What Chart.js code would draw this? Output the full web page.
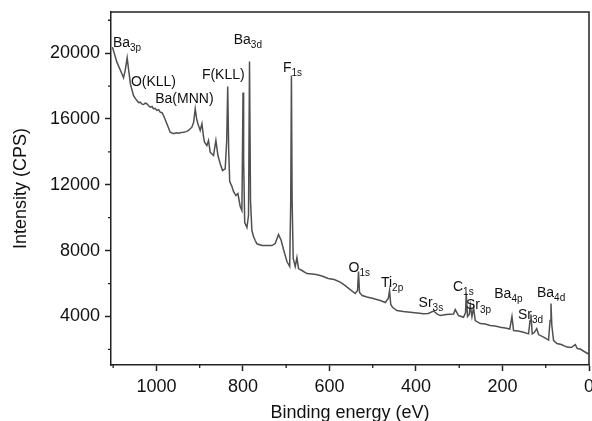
<!DOCTYPE html>
<html><head><meta charset="utf-8">
<script src="https://cdn.jsdelivr.net/npm/chart.js@4.4.0/dist/chart.umd.min.js"></script>
<style>html,body{margin:0;padding:0;background:#fff;}#wrap{width:592px;height:421px;}</style>
</head><body><div id="wrap"><canvas id="c" width="592" height="421"></canvas></div>
<script>
// Binding energy (eV)
const energy = [1101.6,1091.4,1079.8,1076.1,1072.2,1067.6,1064.1,1059.9,1053,1049,1045.1,1041,1037.5,1033,1029.8,1026,1022,1018,1014.4,1010,1006.8,1003,998.9,995,991.3,987,983.6,975.8,968.2,960.5,954,948.9,943,937.4,931,925.8,918,914,910.3,907,904.1,898.8,894.8,891,888.8,883.3,879.6,875.7,868,862.5,857.8,852.5,847.2,841,837.5,835.2,832.9,830.6,825.5,821.8,816.3,811.6,806.3,802.4,801,799.8,798.4,795.9,790.8,787.1,784.8,782.5,779.3,775.5,771.6,767.7,756.1,746.2,733,725.4,717.8,711.5,706.2,698.3,691.9,689.5,687.9,686.3,683.8,679.1,675.2,671.5,663.6,652.1,640.5,630.6,617.4,602.8,589,575.1,563.5,552,540.4,535.1,532.8,530.5,524.2,513.3,498.8,482.6,471,464.1,461.1,458.3,453.7,444,429.4,413.3,397.1,382.5,371.6,359.4,350.8,343.9,330,313.1,309.2,301.6,290,285.4,283.8,280.8,276.8,274.5,270.6,266.9,263,251.4,239.8,228.3,216.7,205.2,193.6,183.2,178.1,174.4,163.6,151.3,139.7,136.3,134.2,131.2,126.5,120.8,116.6,105,93.5,90,87.9,85.9,81.9,74.1,64.1,51,41.2,31.7,27,20.1,11.2,1.2];
// Intensity (CPS)
const intensity = [20365,19453,18748,18505,18948,19708,18948,18097,17429,17250,17124,16990,17021,16900,16881,16960,16924,16800,16717,16760,16620,16650,16517,16560,16413,16380,16213,15708,15198,15100,15160,15137,15180,15198,15230,15301,15502,15800,16620,16000,15708,15301,15708,14900,14590,14389,14693,13982,13781,14693,13781,13276,12869,12972,14693,17976,14085,12200,11896,11593,11349,11471,10681,10438,14085,17611,13477,9708,9404,10134,19495,11045,9222,8857,8614,8413,8310,8310,8310,8432,8979,8614,8067,7337,7034,11045,18644,11045,7520,7034,7581,6912,6791,6608,6578,6547,6456,6304,6243,6091,5878,5635,5392,5574,6729,5453,5271,5180,5089,4968,4846,5089,5574,4724,4541,4359,4298,4255,4207,4158,4177,4329,4146,4055,4116,4146,4420,4055,3951,4237,5392,3994,4116,4663,3994,4541,3751,3569,3538,3447,3417,3344,3295,3234,3994,3143,3112,3040,2942,3751,4116,2942,3021,3265,2900,2748,2565,3751,4785,3447,2535,2353,2292,2140,2110,2292,2049,2019,1870,1718];

const xMajorTicks = [1000,800,600,400,200,0];
const xMinorTicks = [1100,900,700,500,300,100];
const yMajorTicks = [4000,8000,12000,16000,20000];
const yMinorTicks = [2000,6000,10000,14000,18000,22000];

// Peak labels: main text, subscript, anchor (energy, intensity)
const peakMain = ['Ba','O(KLL)','Ba(MNN)','F(KLL)','Ba','F','O','Ti','Sr','C','Sr','Ba','Sr','Ba'];
const peakSub  = ['3p','','','','3d','1s','1s','2p','3s','1s','3p','4p','3d','4d'];
const peakEnergy = [1100.6,1059,1002.8,894.9,821.3,707.6,555.9,481,394,314.5,284.4,219,164.2,120.3];
const peakIntensity = [20365,18000,16942,18401,20560,18827,6687,5775,4560,5574,4462,5131,3854,5167];

const FONT = 'Arial, "Liberation Sans", Helvetica, sans-serif';
const AXIS = '#222';

const extras = {
  id: 'extras',
  afterDraw(chart) {
    const {ctx, chartArea: a, scales: {x, y}} = chart;
    ctx.save();
    ctx.strokeStyle = AXIS; ctx.lineWidth = 1.5;
    ctx.beginPath();
    ctx.moveTo(a.left, a.top); ctx.lineTo(a.right, a.top); ctx.lineTo(a.right, a.bottom);
    ctx.stroke();
    ctx.lineWidth = 1.3;
    ctx.beginPath();
    xMinorTicks.forEach(v => { const px = x.getPixelForValue(v); if (px >= a.left - 1 && px <= a.right + 1) { ctx.moveTo(px, a.bottom); ctx.lineTo(px, a.bottom + 3); } });
    yMinorTicks.forEach(v => { const py = y.getPixelForValue(v); if (py >= a.top - 1 && py <= a.bottom + 1) { ctx.moveTo(a.left, py); ctx.lineTo(a.left - 3, py); } });
    ctx.stroke();
    ctx.fillStyle = '#111';
    ctx.textBaseline = 'alphabetic';
    ctx.textAlign = 'left';
    peakMain.forEach((t, i) => {
      const px = x.getPixelForValue(peakEnergy[i]);
      const py = y.getPixelForValue(peakIntensity[i]);
      ctx.font = '14px ' + FONT;
      ctx.fillText(t, px, py);
      if (peakSub[i]) {
        const w = ctx.measureText(t).width;
        ctx.font = '10px ' + FONT;
        ctx.fillText(peakSub[i], px + w, py + 4);
      }
    });
    ctx.restore();
  }
};

new Chart(document.getElementById('c'), {
  type: 'line',
  data: {
    datasets: [{
      data: energy.map((e, i) => ({x: e, y: intensity[i]})),
      borderColor: '#505050',
      borderWidth: 1.5,
      pointRadius: 0,
      fill: false,
      tension: 0
    }]
  },
  options: {
    responsive: false,
    devicePixelRatio: 1,
    animation: false,
    layout: {padding: {top: 12, right: 3, left: 0, bottom: 0}},
    plugins: {legend: {display: false}, tooltip: {enabled: false}},
    scales: {
      x: {
        type: 'linear', reverse: true, min: 0, max: 1105,
        afterBuildTicks: s => { s.ticks = xMajorTicks.map(v => ({value: v})); },
        afterFit: s => { s.height = 56; s.paddingLeft = 0; s.paddingRight = 0; },
        ticks: {color: '#111', font: {family: FONT, size: 18}, padding: 5, maxRotation: 0, autoSkip: false, callback: v => String(v)},
        grid: {display: true, drawOnChartArea: false, drawTicks: true, tickLength: 6, tickColor: AXIS, tickWidth: 1.5},
        border: {display: true, color: AXIS, width: 1.5},
        title: {display: true, text: 'Binding energy (eV)', color: '#111', font: {family: FONT, size: 18}, padding: {top: 0, bottom: -3}}
      },
      y: {
        type: 'linear', min: 1050, max: 22500,
        afterBuildTicks: s => { s.ticks = yMajorTicks.map(v => ({value: v})); },
        afterFit: s => { s.width = 111; s.paddingTop = 0; s.paddingBottom = 0; },
        ticks: {color: '#111', font: {family: FONT, size: 18}, padding: 5, autoSkip: false, callback: v => String(v)},
        grid: {display: true, drawOnChartArea: false, drawTicks: true, tickLength: 6, tickColor: AXIS, tickWidth: 1.5},
        border: {display: true, color: AXIS, width: 1.5},
        title: {display: true, text: 'Intensity (CPS)', color: '#111', font: {family: FONT, size: 18}, padding: {top: 10, bottom: 0}}
      }
    }
  },
  plugins: [extras]
});
</script></body></html>
